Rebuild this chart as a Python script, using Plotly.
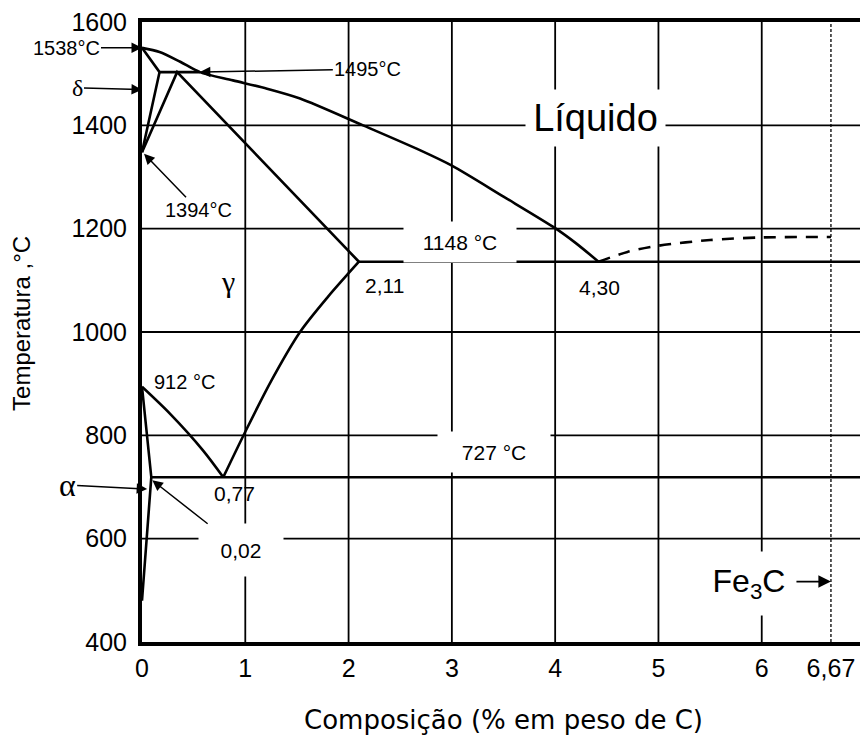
import plotly.graph_objects as go

# ---- data (x: % C, y: temperature) ----
liq_x = [0.0, 0.17, 0.37, 0.56, 0.88, 1.21, 1.53, 2.14, 2.69, 3.0, 3.5, 4.0, 4.2, 4.42]
liq_T = [1550, 1542, 1523, 1503, 1487, 1471, 1452, 1400, 1352, 1322, 1262, 1201, 1172, 1136]

delta_x = [0.0, 0.17, 0.0]
delta_T = [1550, 1503, 1348]

perit_x = [0.17, 0.56]
perit_T = [1503, 1503]

gam_x = [0.0, 0.34, 2.10]
gam_T = [1348, 1503, 1136]

eut_x = [2.10, 6.99]
eut_T = [1136, 1136]

acm_x = [2.10, 1.80, 1.53, 1.25, 1.00, 0.787]
acm_T = [1136, 1068, 1000, 905, 807, 719]

a3_x = [0.0, 0.27, 0.59, 0.787]
a3_T = [894, 842, 771, 719]

alpha_x = [0.0, 0.09, 0.0]
alpha_T = [894, 719, 480]

eutd_x = [0.09, 6.99]
eutd_T = [719, 719]

cem_x = [4.42, 4.7, 5.0, 5.5, 6.0, 6.67]
cem_T = [1136, 1155, 1167, 1178, 1183, 1184]

x_ticks = [0, 1, 2, 3, 4, 5, 6, 6.67]
x_labels = ["0", "1", "2", "3", "4", "5", "6", "6,67"]
y_ticks = [400, 600, 800, 1000, 1200, 1400, 1600]
x_grid = [1, 2, 3, 4, 5, 6]
y_grid = [600, 800, 1000, 1200, 1400]
x_fe3c = 6.67
x_max = 6.99
y_min, y_max = 400, 1600

FONT = "Liberation Sans, Arial, sans-serif"
SERIF = "Liberation Serif, Times New Roman, serif"

fig = go.Figure()

straight = [(delta_x, delta_T), (perit_x, perit_T), (gam_x, gam_T),
            (eut_x, eut_T), (alpha_x, alpha_T), (eutd_x, eutd_T)]
curved = [(liq_x, liq_T), (acm_x, acm_T), (a3_x, a3_T)]
for xs, ys in straight:
    fig.add_trace(go.Scatter(x=xs, y=ys, mode="lines", line=dict(color="black", width=2.6),
                             hoverinfo="skip", showlegend=False))
for xs, ys in curved:
    fig.add_trace(go.Scatter(x=xs, y=ys, mode="lines",
                             line=dict(color="black", width=2.6, shape="spline", smoothing=0.8),
                             hoverinfo="skip", showlegend=False))

fig.add_trace(go.Scatter(x=cem_x, y=cem_T, mode="lines",
                         line=dict(color="black", width=2.6, dash="12px,9px", shape="spline", smoothing=0.8),
                         hoverinfo="skip", showlegend=False))

# grid lines
shapes = []
for gx in x_grid:
    shapes.append(dict(type="line", xref="x", yref="y", x0=gx, x1=gx, y0=y_min, y1=y_max,
                       line=dict(color="black", width=1.8), layer="below"))
for gy in y_grid:
    shapes.append(dict(type="line", xref="x", yref="y", x0=0, x1=x_max, y0=gy, y1=gy,
                       line=dict(color="black", width=1.8), layer="below"))
shapes.append(dict(type="line", xref="x", yref="y", x0=x_fe3c, x1=x_fe3c, y0=y_min, y1=y_max,
                   line=dict(color="black", width=1.3, dash="3px,2px"), layer="below"))

ann = []
def txt(x, y, s, size=21, fam=FONT, bg=None, w=None, h=None):
    d = dict(x=x, y=y, xref="x", yref="y", text=s, showarrow=False,
             font=dict(family=fam, size=size, color="black"),
             xanchor="center", yanchor="middle")
    if bg:
        d.update(bgcolor=bg)
    if w:
        d.update(width=w)
    if h:
        d.update(height=h)
    ann.append(d)

def arr(x, y, s, ax, ay, size=21, fam=FONT, bg=None, w=None, h=None, aw=1.5, asz=1.4):
    d = dict(x=x, y=y, xref="x", yref="y", text=s, showarrow=True, ax=ax, ay=ay,
             axref="pixel", ayref="pixel", arrowhead=2, arrowsize=asz, arrowwidth=aw,
             arrowcolor="black", font=dict(family=fam, size=size, color="black"),
             xanchor="center", yanchor="middle")
    if bg:
        d.update(bgcolor=bg)
    if w:
        d.update(width=w)
    if h:
        d.update(height=h)
    ann.append(d)

txt(4.39, 1414, "Líquido", size=38, bg="white", w=137, h=54)
txt(3.08, 1174, "1148 °C", size=21, bg="white", w=110, h=38)
txt(3.41, 767, "727 °C", size=21, bg="white", w=110, h=38)
txt(2.35, 1090, "2,11", size=21)
txt(4.43, 1087, "4,30", size=21)
txt(0.90, 687, "0,77", size=21)
txt(0.41, 903, "912 °C", size=20)
txt(0.83, 1098, "γ", size=30, fam=SERIF)
txt(5.88, 513, "Fe<sub>3</sub>C", size=32, bg="white", w=92, h=61)

arr(0.0, 1550, "1538°C", -76, 0, size=20)
arr(0.56, 1503, "1495°C", 168, -3, size=20)
arr(0.02, 1345, "1394°C", 54, 56, size=20)
arr(0.0, 1469, "δ", -65, -2, size=24, fam=SERIF)
arr(0.05, 696, "α", -80, -4, size=32, fam=SERIF)
arr(0.10, 713, "0,02", 89, 70, size=21, bg="white", w=82, h=50)
arr(x_fe3c, 517, "", -36, 0, aw=1.8, asz=1.4)

# axis titles
ann.append(dict(xref="paper", yref="paper", x=0.5, y=0, yshift=-78, text="Composição (% em peso de C)",
                showarrow=False, font=dict(family="DejaVu Sans, sans-serif", size=26, color="black"),
                xanchor="center", yanchor="middle"))
ann.append(dict(xref="paper", yref="paper", x=0, y=0.513, xshift=-120, text="Temperatura ,°C",
                textangle=-90, showarrow=False, font=dict(family=FONT, size=24, color="black"),
                xanchor="center", yanchor="middle"))

# page body has an 8px default margin, so the plot margins are reduced by 8px on left/top
fig.update_layout(
    width=868, height=755,
    margin=dict(l=134, r=12, t=14, b=121, autoexpand=False),
    plot_bgcolor="white", paper_bgcolor="white",
    shapes=shapes, annotations=ann, showlegend=False,
    font=dict(family=FONT, color="black"),
)
fig.update_xaxes(range=[0, x_max], tickvals=x_ticks, ticktext=x_labels, showgrid=False,
                 zeroline=False, showline=True, linecolor="black", linewidth=4, mirror=True,
                 automargin=False, ticklabeloverflow="allow",
                 ticks="", ticklabelstandoff=1, tickfont=dict(size=25, family=FONT, color="black"))
fig.update_yaxes(range=[y_min, y_max], tickvals=y_ticks, showgrid=False,
                 zeroline=False, showline=True, linecolor="black", linewidth=4, mirror=True,
                 automargin=False, ticklabeloverflow="allow",
                 ticks="", ticklabelstandoff=6, tickfont=dict(size=25, family=FONT, color="black"))

fig.write_html("out.html")
